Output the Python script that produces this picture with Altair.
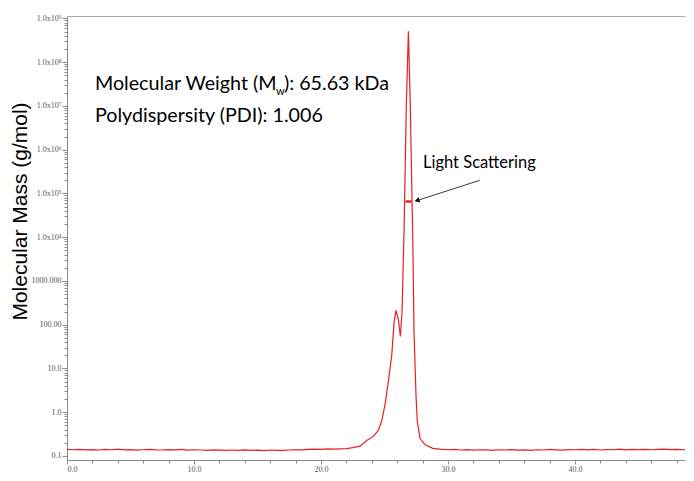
import altair as alt
import pandas as pd

# ---- data ----
time_min = [
    0.0, 0.5, 1.0, 1.5, 2.0, 2.5, 3.0, 3.5, 4.0, 4.5, 5.0, 5.5, 6.0, 6.5, 7.0, 7.5,
    8.0, 8.5, 9.0, 9.5, 10.0, 10.5, 11.0, 11.5, 12.0, 12.5, 13.0, 13.5, 14.0, 14.5,
    15.0, 15.5, 16.0, 16.5, 17.0, 17.5, 18.0, 18.5, 19.0, 19.5, 20.0, 20.5, 21.0,
    21.5, 22.0, 22.5, 23.07, 23.6, 24.1, 24.5, 24.78, 25.04, 25.3, 25.57, 25.75,
    25.9, 26.09, 26.25, 26.38, 26.54, 26.72, 26.88, 27.03, 27.17, 27.22, 27.32,
    27.48, 27.58, 27.8, 28.2, 28.8, 29.5, 30.0, 30.5, 31.0, 31.5, 32.0, 32.5, 33.0,
    33.5, 34.0, 34.5, 35.0, 35.5, 36.0, 36.5, 37.0, 37.5, 38.0, 38.5, 39.0, 39.5,
    40.0, 40.5, 41.0, 41.5, 42.0, 42.5, 43.0, 43.5, 44.0, 44.5, 45.0, 45.5, 46.0,
    46.5, 47.0, 47.5, 48.0, 48.5, 49.0, 49.3,
]
mass = [
    0.142, 0.139, 0.141, 0.138, 0.140, 0.137, 0.141, 0.139, 0.143, 0.138, 0.140, 0.136,
    0.139, 0.141, 0.138, 0.137, 0.140, 0.138, 0.141, 0.136, 0.139, 0.137, 0.135, 0.138,
    0.136, 0.134, 0.137, 0.135, 0.138, 0.134, 0.136, 0.133, 0.137, 0.135, 0.134, 0.137,
    0.139, 0.138, 0.141, 0.143, 0.142, 0.145, 0.144,
    0.146, 0.148, 0.155, 0.168, 0.225, 0.277, 0.38, 0.63, 1.5, 5.0, 20.0, 112.0,
    214.0, 132.0, 54.0, 190.0, 1.4e4, 1.1e7, 5.1e8, 1.1e7, 6.3e4, 1.3e4, 76.0,
    2.4, 0.62, 0.25, 0.18, 0.15, 0.141, 0.139, 0.142, 0.137, 0.140, 0.136, 0.139,
    0.138, 0.135, 0.139, 0.137, 0.140, 0.136, 0.138, 0.135, 0.139, 0.137, 0.141,
    0.138, 0.136, 0.140, 0.139, 0.142, 0.138, 0.141, 0.137, 0.140, 0.139, 0.143,
    0.138, 0.141, 0.140, 0.142, 0.139, 0.141, 0.143, 0.140, 0.142, 0.139, 0.141, 0.140,
]
ls_time = [26.66, 27.13]
ls_mass = [65630, 65630]

arrow_x = [32.5]
arrow_x2 = [27.56]
arrow_y = [2.0e5]
arrow_y2 = [6.9e4]

y_major = [0.1, 1, 10, 100, 1000, 1e4, 1e5, 1e6, 1e7, 1e8, 1e9]
y_minor = [k * 10.0 ** d for d in range(-1, 9) for k in range(2, 10)]
x_ticks = [0, 2, 4, 6, 8, 10, 12, 14, 16, 18, 20, 22, 24, 26, 28, 30, 32, 34, 36, 38,
           40, 42, 44, 46, 48]

df = pd.DataFrame({"t": time_min, "m": mass})
ls_df = pd.DataFrame({"t": ls_time, "m": ls_mass})
arr_df = pd.DataFrame({"x": arrow_x, "x2": arrow_x2, "y": arrow_y, "y2": arrow_y2})

RED = "#ee1c25"
AX = "#8a8a8a"
LBL = "#555555"
LFONT = "Liberation Sans Narrow"

xscale = alt.Scale(domain=[0, 48.66], nice=False, zero=False)
yscale = alt.Scale(type="log", domain=[0.081, 1.14e9], nice=False)

y_major_test = "abs(log(datum.value)/LN10 - round(log(datum.value)/LN10)) < 0.001"
y_label_expr = (
    "!(" + y_major_test + ") ? '' : "
    "datum.value >= 9999 ? '1.0x10' + ['\u2074','\u2075','\u2076','\u2077','\u2078','\u2079']"
    "[round(log(datum.value)/LN10) - 4] : datum.value >= 999 ? '1000.000' : "
    "datum.value >= 99 ? '100.00' : datum.value >= 9 ? '10.0' : "
    "datum.value >= 0.9 ? '1.0' : '0.1'"
)
x_major_test = "datum.value % 10 === 0"
x_label_expr = "(" + x_major_test + ") ? format(datum.value, '.1f') : ''"

line = alt.Chart(df).mark_line(color=RED, strokeWidth=1.2, clip=True).encode(
    x=alt.X("t:Q", scale=xscale, axis=alt.Axis(
        orient="bottom", values=x_ticks, labelExpr=x_label_expr, title=None, grid=False,
        labelFontSize=8, labelColor=LBL, labelFont=LFONT, tickColor=AX, domainColor=AX,
        tickSize={"condition": {"test": x_major_test, "value": 4}, "value": 3},
        labelPadding=1, labelOverlap=False)),
    y=alt.Y("m:Q", scale=yscale, axis=alt.Axis(
        orient="left", values=sorted(y_major + y_minor), labelExpr=y_label_expr,
        grid=False, labelOverlap=False,
        labelFontSize=8, labelColor=LBL, labelFont=LFONT, tickColor=AX, domainColor=AX,
        tickSize={"condition": {"test": y_major_test, "value": 5}, "value": 3},
        labelPadding=1,
        title="Molecular Mass (g/mol)", titleFont="Liberation Sans", titleFontSize=21,
        titleFontWeight="normal", titleColor="#000000", titleAngle=-90,
        titleX=-47, titleY=195, titleAlign="center", titleBaseline="middle")),
)

top = alt.Chart(df).mark_line(opacity=0).encode(
    x=alt.X("t:Q", scale=xscale, axis=alt.Axis(
        orient="top", labels=False, ticks=False, title=None, grid=False,
        domainColor="#aaaaaa")),
    y=alt.Y("m:Q", scale=yscale, axis=None),
)

ls = alt.Chart(ls_df).mark_line(color=RED, strokeWidth=2.5).encode(
    x=alt.X("t:Q", scale=xscale, axis=None),
    y=alt.Y("m:Q", scale=yscale, axis=None),
)

arrow = alt.Chart(arr_df).mark_rule(color="#222222", strokeWidth=0.9).encode(
    x=alt.X("x:Q", scale=xscale, axis=None), x2="x2:Q",
    y=alt.Y("y:Q", scale=yscale, axis=None), y2="y2:Q",
)
head = alt.Chart(arr_df).mark_point(
    shape="triangle-right", filled=True, color="#111111", size=35, angle=162, opacity=1
).encode(
    x=alt.X("x2:Q", scale=xscale, axis=None),
    y=alt.Y("y2:Q", scale=yscale, axis=None),
)

ann_df = pd.DataFrame({"x": [2.2], "y1": [3.1e7], "y2": [6.0e6], "lx": [28.03], "ly": [5.0e5]})
TFONT = "Lato"

def txt(text, xf, yf, size, dx=0, dy=0):
    return alt.Chart(ann_df).mark_text(
        text=text, align="left", baseline="middle", font=TFONT, fontSize=size,
        color="#000000", dx=dx, dy=dy
    ).encode(
        x=alt.X(f"{xf}:Q", scale=xscale, axis=None),
        y=alt.Y(f"{yf}:Q", scale=yscale, axis=None),
    )

t1a = txt("Molecular Weight (M", "x", "y1", 19.7)
t1b = txt("w", "x", "y1", 11, dx=181, dy=8)
t1c = txt("): 65.63 kDa", "x", "y1", 19.7, dx=189)
t2 = txt("Polydispersity (PDI): 1.006", "x", "y2", 19.7)
t3 = txt("Light Scattering", "lx", "ly", 16.5)

chart = alt.layer(
    line, top, ls, arrow, head, t1a, t1b, t1c, t2, t3
).resolve_axis(x="independent", y="independent").properties(
    width=618, height=444,
    autosize=alt.AutoSizeParams(type="none"),
    padding={"left": 59, "top": 8, "right": 1, "bottom": 13},
).configure_view(stroke=None)

chart.save("out.html", embed_options={"renderer": "svg", "actions": False})
